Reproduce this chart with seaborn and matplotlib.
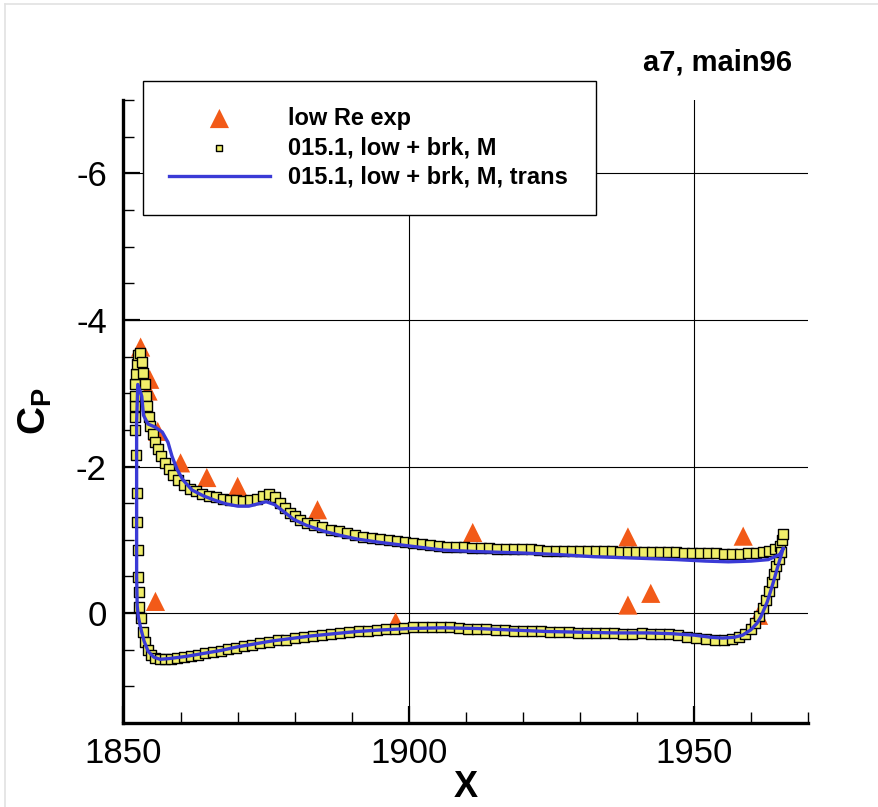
import matplotlib
matplotlib.use("Agg")
import matplotlib.pyplot as plt
from matplotlib.lines import Line2D
from matplotlib.ticker import MultipleLocator
import pandas as pd
import seaborn as sns

# experimental points (low Re exp)
exp_x = [1853.0, 1854.6, 1854.3, 1856.0, 1860.0, 1864.6, 1870.0, 1884.0,
         1911.2, 1938.4, 1958.6, 1855.6, 1897.7, 1938.4, 1942.4, 1961.3]
exp_cp = [-3.63, -3.19, -3.03, -2.48, -2.05, -1.85, -1.73, -1.41,
          -1.10, -1.04, -1.05, -0.16, 0.12, -0.11, -0.27, 0.03]

# computed surface points, 015.1, low + brk, M
sq_x = [1852.8, 1852.7, 1852.6, 1852.5, 1852.4, 1852.3, 1852.2, 1852.1, 1852.0, 1852.0, 1852.0, 1852.1, 1852.2,
        1852.4, 1852.6, 1852.9, 1853.2, 1853.5, 1853.7, 1853.9, 1854.1, 1854.4, 1854.7, 1855.1, 1855.5,
        1856.0, 1856.6, 1857.2, 1857.9, 1858.7, 1859.6, 1860.6, 1861.6, 1862.7, 1863.8, 1865.0, 1866.2,
        1867.4, 1868.6, 1869.8, 1871.0, 1872.2, 1873.4, 1874.5, 1875.5, 1876.5, 1877.4, 1878.3, 1879.2,
        1880.1, 1881.0, 1882.2, 1883.3, 1884.8, 1886.3, 1887.8, 1889.2, 1890.6, 1892.0, 1893.5, 1895.0,
        1896.5, 1898.0, 1899.4, 1900.8, 1902.3, 1903.8, 1905.3, 1906.7, 1908.2, 1909.6, 1911.1, 1912.6,
        1914.0, 1915.5, 1917.0, 1918.4, 1919.9, 1921.4, 1922.9, 1924.3, 1925.8, 1927.2, 1928.6, 1930.0,
        1931.4, 1932.8, 1934.2, 1935.6, 1937.0, 1938.4, 1939.8, 1941.2, 1942.6, 1944.0, 1945.4, 1946.8,
        1948.2, 1949.6, 1951.0, 1952.4, 1953.8, 1955.2, 1956.6, 1958.0, 1959.4, 1960.8, 1962.0, 1963.2,
        1964.2, 1965.0, 1965.4, 1965.5,
        1853.1, 1853.4, 1853.8, 1854.3, 1854.9, 1855.6, 1856.4, 1857.3, 1858.3, 1859.4, 1860.6, 1861.8,
        1863.0, 1864.3, 1865.6, 1867.0, 1868.4, 1869.8, 1871.2, 1872.6, 1874.0, 1875.5, 1877.0, 1878.5,
        1880.0, 1881.6, 1883.2, 1884.8, 1886.4, 1888.0, 1889.6, 1891.2, 1892.8, 1894.4, 1896.0, 1897.6,
        1899.2, 1900.8, 1902.4, 1904.0, 1905.6, 1907.2, 1908.8, 1910.4, 1912.0, 1913.6, 1915.2, 1916.8,
        1918.4, 1920.0, 1921.6, 1923.2, 1924.8, 1926.4, 1928.0, 1929.6, 1931.2, 1932.8, 1934.4, 1936.0,
        1937.6, 1939.2, 1940.8, 1942.4, 1944.0, 1945.6, 1947.2, 1948.8, 1950.4, 1952.0, 1953.6, 1955.2,
        1956.6, 1957.8, 1958.9, 1959.9, 1960.7, 1961.4, 1962.0, 1962.6, 1963.1, 1963.6, 1964.0, 1964.4,
        1964.8, 1965.2]
sq_cp = [-0.08, -0.29, -0.49, -0.86, -1.25, -1.64, -2.16, -2.50, -2.67, -2.82, -2.96, -3.12, -3.26,
         -3.40, -3.52, -3.55, -3.42, -3.28, -3.12, -2.96, -2.82, -2.68, -2.55, -2.44, -2.34,
         -2.24, -2.14, -2.05, -1.97, -1.89, -1.82, -1.75, -1.70, -1.66, -1.63, -1.60, -1.58,
         -1.56, -1.55, -1.54, -1.53, -1.54, -1.56, -1.60, -1.62, -1.58, -1.50, -1.43, -1.37,
         -1.32, -1.27, -1.23, -1.20, -1.17, -1.14, -1.12, -1.10, -1.07, -1.04, -1.03, -1.01,
         -1.00, -0.99, -0.97, -0.96, -0.95, -0.93, -0.92, -0.90, -0.90, -0.90, -0.89, -0.89,
         -0.89, -0.88, -0.88, -0.88, -0.87, -0.87, -0.86, -0.85, -0.85, -0.85, -0.85, -0.85,
         -0.85, -0.85, -0.85, -0.85, -0.84, -0.84, -0.84, -0.84, -0.84, -0.83, -0.83, -0.83,
         -0.82, -0.82, -0.82, -0.82, -0.82, -0.81, -0.81, -0.81, -0.82, -0.82, -0.83, -0.85,
         -0.87, -0.92, -1.00, -1.08,
         0.07, 0.26, 0.39, 0.50, 0.57, 0.61, 0.63, 0.63, 0.62, 0.61, 0.60, 0.58,
         0.57, 0.55, 0.53, 0.51, 0.49, 0.47, 0.45, 0.43, 0.41, 0.39, 0.37, 0.36,
         0.34, 0.32, 0.31, 0.30, 0.28, 0.27, 0.26, 0.25, 0.24, 0.23, 0.22, 0.21,
         0.20, 0.19, 0.19, 0.19, 0.19, 0.19, 0.20, 0.21, 0.21, 0.22, 0.23, 0.23,
         0.24, 0.24, 0.25, 0.25, 0.26, 0.26, 0.26, 0.27, 0.27, 0.27, 0.27, 0.27,
         0.28, 0.28, 0.27, 0.28, 0.28, 0.29, 0.30, 0.32, 0.34, 0.35, 0.36, 0.36,
         0.35, 0.32, 0.28, 0.22, 0.14, 0.04, -0.07, -0.18, -0.30, -0.42, -0.53, -0.64,
         -0.74, -0.84]

# computed closed contour, 015.1, low + brk, M, trans (TE upper -> LE -> TE lower)
tr_x = [1965.6, 1965.0, 1963.0, 1960.0, 1956.0, 1952.0, 1947.0, 1940.0, 1932.4, 1926.0, 1920.0,
        1912.0, 1906.0, 1899.7, 1894.5, 1891.0, 1888.0, 1885.0, 1882.0, 1879.8, 1878.0, 1876.5,
        1875.0, 1873.5, 1872.0, 1870.0, 1868.0, 1866.0, 1864.0, 1862.0, 1860.4, 1859.4, 1858.5,
        1857.8, 1856.8, 1855.5, 1854.3, 1853.5, 1853.2, 1852.5, 1852.3, 1852.3, 1852.3, 1852.4,
        1852.6, 1853.0, 1853.6, 1854.3, 1855.3, 1856.4, 1858.0, 1861.0, 1864.0, 1867.0, 1870.0,
        1873.0, 1876.0, 1879.0, 1883.0, 1887.0, 1891.0, 1895.0, 1900.0, 1906.0, 1912.0, 1918.0,
        1924.0, 1930.0, 1936.0, 1942.0, 1946.0, 1950.0, 1953.0, 1955.0, 1957.0, 1958.5, 1959.9,
        1961.0, 1961.7, 1962.8, 1963.8, 1964.6, 1965.3, 1965.6]
tr_cp = [-0.88, -0.80, -0.73, -0.71, -0.70, -0.71, -0.73, -0.75, -0.77, -0.80, -0.82,
         -0.84, -0.86, -0.92, -0.97, -1.01, -1.06, -1.12, -1.20, -1.28, -1.39, -1.48,
         -1.52, -1.49, -1.46, -1.46, -1.49, -1.54, -1.60, -1.68, -1.82, -1.96, -2.14,
         -2.33, -2.47, -2.54, -2.58, -2.70, -2.96, -3.12, -2.60, -1.50, -0.50, -0.10,
         0.05, 0.20, 0.38, 0.52, 0.60, 0.63, 0.62, 0.59, 0.55, 0.51, 0.46,
         0.42, 0.38, 0.35, 0.31, 0.28, 0.25, 0.23, 0.21, 0.20, 0.21, 0.23,
         0.25, 0.26, 0.27, 0.27, 0.28, 0.30, 0.33, 0.34, 0.33, 0.30, 0.23,
         0.14, 0.05, -0.15, -0.40, -0.62, -0.80, -0.88]

x_major = [1850, 1900, 1950]
y_major = [-6, -4, -2, 0]

plt.rcParams["font.family"] = ["Liberation Sans", "DejaVu Sans"]
plt.rcParams["axes.unicode_minus"] = False
plt.rcParams["mathtext.fontset"] = "custom"
plt.rcParams["mathtext.rm"] = "Liberation Sans"
plt.rcParams["mathtext.bf"] = "Liberation Sans:bold"

fig = plt.figure(figsize=(8.79, 8.07), dpi=100)
ax = fig.add_axes([0.1405, 0.104, 0.779, 0.772])

exp_df = pd.DataFrame({"x": exp_x, "cp": exp_cp})
sq_df = pd.DataFrame({"x": sq_x, "cp": sq_cp})
tr_df = pd.DataFrame({"x": tr_x, "cp": tr_cp})

sns.scatterplot(data=exp_df, x="x", y="cp", ax=ax, marker="^", s=190,
                color="#f25a18", edgecolor="none", label="low Re exp", zorder=3)
sns.scatterplot(data=sq_df, x="x", y="cp", ax=ax, marker="s", s=42,
                color="#f0ee6a", edgecolor="black", linewidth=1.0,
                label="015.1, low + brk, M", zorder=4)
sns.lineplot(data=tr_df, x="x", y="cp", ax=ax, sort=False, estimator=None,
             color="#3a3ad6", linewidth=2.4, label="015.1, low + brk, M, trans", zorder=5)

ax.set_xlim(1850, 1970)
ax.set_ylim(1.5, -7)
ax.set_xticks(x_major)
ax.set_yticks(y_major)
ax.xaxis.set_minor_locator(MultipleLocator(10))
ax.yaxis.set_minor_locator(MultipleLocator(0.5))
ax.tick_params(which="major", direction="in", length=12, width=1.6, labelsize=25, color="black")
ax.tick_params(which="minor", direction="in", length=8, width=1.0, color="black")
ax.tick_params(axis="y", pad=12)
ax.tick_params(axis="x", pad=10)

ax.grid(True, which="major", color="black", linewidth=0.8)
ax.set_axisbelow(True)
for side in ["top", "right"]:
    ax.spines[side].set_visible(False)
for side in ["left", "bottom"]:
    ax.spines[side].set_linewidth(2.4)
    ax.spines[side].set_color("black")

ax.set_xlabel("X", fontsize=26, fontweight="bold", labelpad=0)
ax.set_ylabel(r"$\mathbf{C_P}$", fontsize=28, labelpad=16)

leg = ax.legend(loc="upper left", bbox_to_anchor=(0.028, 1.031, 0.662, 0.0),
                mode="expand", borderaxespad=0, frameon=True, fancybox=False,
                edgecolor="black", framealpha=1, prop={"weight": "bold", "size": 17},
                handlelength=4.3, handletextpad=0.75, borderpad=1.1, labelspacing=0.28,
                scatterpoints=1)
leg.get_frame().set_linewidth(1.0)
leg.set_zorder(10)
leg.legend_handles[1].set_sizes([24])

fig.text(0.901, 0.923, "a7, main96", ha="right", va="center", fontsize=21, fontweight="bold")

fig.add_artist(Line2D([0.006, 0.006], [0, 0.995], color="#e2e2e2", linewidth=1.2))
fig.add_artist(Line2D([0.006, 1.0], [0.995, 0.995], color="#e2e2e2", linewidth=1.2))

fig.savefig("out.png", dpi=100)
